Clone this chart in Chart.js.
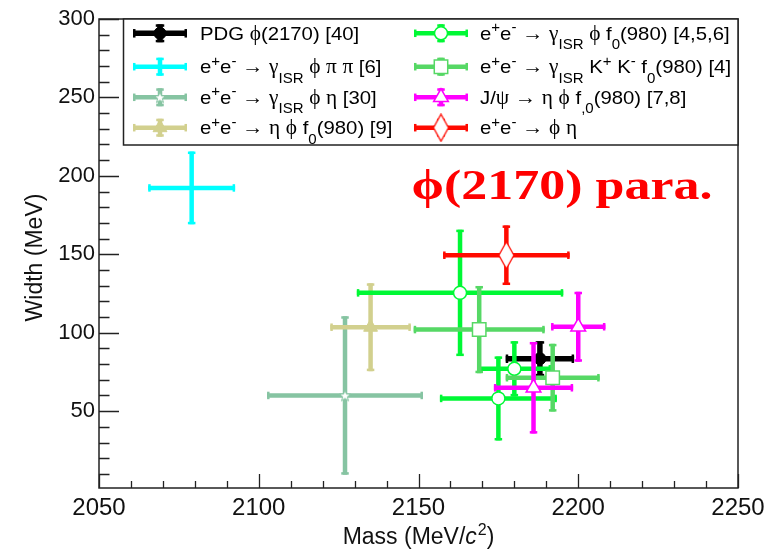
<!DOCTYPE html>
<html><head><meta charset="utf-8">
<script src="https://cdn.jsdelivr.net/npm/chart.js@4.4.1/dist/chart.umd.min.js"></script>
<style>html,body{margin:0;padding:0;background:#fff;}canvas{display:block;}</style>
</head><body>
<canvas id="c" width="784" height="551"></canvas>
<script>
// ---------------- data ----------------
const xTicks = [2050, 2100, 2150, 2200, 2250];
const yTicks = [50, 100, 150, 200, 250, 300];

const pdgMass = [2188.0], pdgMassErr = [10.7], pdgWidth = [83.4], pdgWidthErr = [11.2];
const phiPiPiMass = [2079.0], phiPiPiMassErr = [13.6], phiPiPiWidth = [192.3], phiPiPiWidthErr = [23.2];
const phiEtaIsrMass = [2127.0], phiEtaIsrMassErr = [24.4], phiEtaIsrWidth = [60.0], phiEtaIsrWidthErr = [50.5];
const etaPhiF0Mass = [2135.0], etaPhiF0MassErr = [12.6], etaPhiF0Width = [103.5], etaPhiF0WidthErr = [28.0];
const phiF0IsrMass = [2163.0, 2175.0, 2180.0], phiF0IsrMassErr = [32.3, 18.3, 11.5];
const phiF0IsrWidth = [125.4, 58.1, 77.0], phiF0IsrWidthErr = [40.3, 26.8, 17.6];
const kkF0IsrMass = [2169.0, 2192.0], kkF0IsrMassErr = [20.5, 14.7];
const kkF0IsrWidth = [102.0, 71.3], kkF0IsrWidthErr = [27.8, 21.6];
const jpsiMass = [2200.0, 2186.0], jpsiMassErr = [8.5, 12.4];
const jpsiWidth = [103.8, 64.9], jpsiWidthErr = [22.3, 29.2];
const phiEtaMass = [2177.5], phiEtaMassErr = [19.8], phiEtaWidth = [149.4], phiEtaWidthErr = [19.0];

const seriesLabels = [
  "PDG ϕ(2170) [40]",
  "e^{+}e^{-} → γ_{ISR} ϕ π π [6]",
  "e^{+}e^{-} → γ_{ISR} ϕ η [30]",
  "e^{+}e^{-} → η ϕ f_{0}(980) [9]",
  "e^{+}e^{-} → γ_{ISR} ϕ f_{0}(980) [4,5,6]",
  "e^{+}e^{-} → γ_{ISR} K^{+} K^{-} f_{0}(980) [4]",
  "J/ψ → η ϕ f_{,0}(980) [7,8]",
  "e^{+}e^{-} → ϕ η"
];
const xTitle = "Mass (MeV/";
const yTitle = "Width (MeV)";
const annotation = "ϕ(2170) para.";

// ---------------- custom marker images ----------------
function makeDiamond(color){
  const c = document.createElement('canvas'); c.width = 17; c.height = 29;
  const g = c.getContext('2d');
  g.beginPath(); g.moveTo(8.5,1); g.lineTo(16,14.5); g.lineTo(8.5,28); g.lineTo(1,14.5); g.closePath();
  g.fillStyle = '#fff'; g.fill(); g.strokeStyle = color; g.lineWidth = 1.3; g.stroke();
  return c;
}
function makeStar(color){
  const c = document.createElement('canvas'); c.width = 14; c.height = 14;
  const g = c.getContext('2d');
  g.beginPath();
  for (let k = 0; k < 10; k++){
    const r = k % 2 ? 2.4 : 6, a = -Math.PI/2 + k*Math.PI/5;
    const X = 7 + r*Math.cos(a), Y = 7.5 + r*Math.sin(a);
    k ? g.lineTo(X,Y) : g.moveTo(X,Y);
  }
  g.closePath(); g.fillStyle = '#fff'; g.fill(); g.strokeStyle = color; g.lineWidth = 1; g.stroke();
  return c;
}

const C = {
  black:'#000000', cyan:'#00ffff', teal:'#86c4a2', khaki:'#d2d08e',
  green:'#00f835', mgreen:'#56d865', magenta:'#ff00ff', red:'#ff0a00'
};

function pts(xs, ys){ return xs.map((v,i)=>({x:v, y:ys[i]})); }

const datasets = [
  {data:pts(pdgMass,pdgWidth), xErr:pdgMassErr, yErr:pdgWidthErr, barColor:C.black, barWidth:5.5,
   pointStyle:'circle', pointRadius:6, backgroundColor:C.black, borderColor:C.black, borderWidth:1},
  {data:pts(phiPiPiMass,phiPiPiWidth), xErr:phiPiPiMassErr, yErr:phiPiPiWidthErr, barColor:C.cyan, barWidth:4.5,
   pointStyle:'circle', pointRadius:0, backgroundColor:C.cyan, borderColor:C.cyan, borderWidth:0},
  {data:pts(phiEtaIsrMass,phiEtaIsrWidth), xErr:phiEtaIsrMassErr, yErr:phiEtaIsrWidthErr, barColor:C.teal, barWidth:4.5,
   pointStyle:makeStar(C.teal), pointRadius:7, backgroundColor:'#fff', borderColor:C.teal, borderWidth:1},
  {data:pts(etaPhiF0Mass,etaPhiF0Width), xErr:etaPhiF0MassErr, yErr:etaPhiF0WidthErr, barColor:C.khaki, barWidth:4.5,
   pointStyle:'triangle', pointRadius:8, backgroundColor:C.khaki, borderColor:C.khaki, borderWidth:1},
  {data:pts(phiF0IsrMass,phiF0IsrWidth), xErr:phiF0IsrMassErr, yErr:phiF0IsrWidthErr, barColor:C.green, barWidth:4.5,
   pointStyle:'circle', pointRadius:6.5, backgroundColor:'#fff', borderColor:C.green, borderWidth:1.5},
  {data:pts(kkF0IsrMass,kkF0IsrWidth), xErr:kkF0IsrMassErr, yErr:kkF0IsrWidthErr, barColor:C.mgreen, barWidth:4.5,
   pointStyle:'rect', pointRadius:9.5, backgroundColor:'#fff', borderColor:C.mgreen, borderWidth:1.5},
  {data:pts(jpsiMass,jpsiWidth), xErr:jpsiMassErr, yErr:jpsiWidthErr, barColor:C.magenta, barWidth:4.5,
   pointStyle:'triangle', pointRadius:8.5, backgroundColor:'#fff', borderColor:C.magenta, borderWidth:1.5},
  {data:pts(phiEtaMass,phiEtaWidth), xErr:phiEtaMassErr, yErr:phiEtaWidthErr, barColor:C.red, barWidth:4.5,
   pointStyle:makeDiamond(C.red), pointRadius:14, backgroundColor:'#fff', borderColor:C.red, borderWidth:1.3}
];
datasets.forEach((d,i)=>{ d.label = seriesLabels[i]; d.order = 20 - i; d.pointHoverRadius = d.pointRadius; });

// ---------------- rich text helper ----------------
const SANS = '"Liberation Sans", Arial, sans-serif';
const SERIF = '"Liberation Serif", "Times New Roman", serif';
function parseRich(str){
  const out = []; let i = 0;
  const isMark = k => (str[k]==='^'||str[k]==='_') && str[k+1]==='{';
  while (i < str.length){
    if (isMark(i)){
      const j = str.indexOf('}', i);
      out.push({t:str.slice(i+2,j), mode:str[i]==='^'?'sup':'sub'}); i = j+1;
    } else {
      let j = i; while (j < str.length && !isMark(j)) j++;
      out.push({t:str.slice(i,j), mode:'n'}); i = j;
    }
  }
  return out;
}
function runs(t){
  const out = []; const re = /[ϕφπηγψ→]/;
  for (const ch of t){
    const g = re.test(ch);
    if (out.length && out[out.length-1].g === g) out[out.length-1].t += ch; else out.push({t:ch, g});
  }
  return out;
}
function drawRich(ctx, str, x, y, size, sx){
  ctx.save(); ctx.translate(x, y); ctx.scale(sx, 1);
  let cx = 0;
  for (const p of parseRich(str)){
    const sz = p.mode === 'n' ? size : size*0.74;
    const dy = p.mode === 'sub' ? size*0.5 : p.mode === 'sup' ? -size*0.4 : 0;
    for (const r of runs(p.t)){
      ctx.font = `${r.g ? sz*1.05 : sz}px ${r.g ? SERIF : SANS}`;
      ctx.fillText(r.t, cx, dy);
      cx += ctx.measureText(r.t).width;
    }
  }
  ctx.restore();
}

// ---------------- plugins ----------------
function drawBar(ctx, x0, x1, cy, cx, y0, y1, color, w){
  ctx.strokeStyle = color; ctx.fillStyle = color; ctx.lineWidth = w; ctx.lineCap = 'butt';
  ctx.beginPath(); ctx.moveTo(x0,cy); ctx.lineTo(x1,cy); ctx.moveTo(cx,y0); ctx.lineTo(cx,y1); ctx.stroke();
  const cl = w + 3, cw = 2.5;
  ctx.fillRect(x0, cy - cl/2, cw, cl); ctx.fillRect(x1 - cw, cy - cl/2, cw, cl);
  ctx.fillRect(cx - cl/2, y0, cl, cw); ctx.fillRect(cx - cl/2, y1 - cw, cl, cw);
}

const errorBars = {
  id:'errorBars',
  beforeDatasetDraw(chart, args){
    const ds = chart.data.datasets[args.index];
    const xs = chart.scales.x, ys = chart.scales.y, ctx = chart.ctx;
    ctx.save();
    ds.data.forEach((p,i)=>{
      drawBar(ctx,
        xs.getPixelForValue(p.x - ds.xErr[i]), xs.getPixelForValue(p.x + ds.xErr[i]),
        ys.getPixelForValue(p.y), xs.getPixelForValue(p.x),
        ys.getPixelForValue(p.y + ds.yErr[i]), ys.getPixelForValue(p.y - ds.yErr[i]),
        ds.barColor, ds.barWidth);
    });
    ctx.restore();
  }
};

const frameAndDecor = {
  id:'frameAndDecor',
  afterDraw(chart){
    const ctx = chart.ctx, a = chart.chartArea, xs = chart.scales.x, ys = chart.scales.y;
    ctx.save();
    // ticks (inward)
    ctx.strokeStyle = '#222'; ctx.lineWidth = 1.3;
    ctx.beginPath();
    for (let v = xs.min; v <= xs.max + 1e-6; v += 10){
      const X = Math.round(xs.getPixelForValue(v)) + 0.5;
      const len = (Math.round(v) % 50 === 0) ? 14 : 7;
      ctx.moveTo(X, a.bottom); ctx.lineTo(X, a.bottom - len);
    }
    for (let v = 10; v <= ys.max + 1e-6; v += 10){
      const Y = Math.round(ys.getPixelForValue(v)) + 0.5;
      const len = (v % 50 === 0) ? 20 : 10.5;
      ctx.moveTo(a.left, Y); ctx.lineTo(a.left + len, Y);
    }
    ctx.stroke();
    // frame
    ctx.lineWidth = 1.5; ctx.strokeStyle = '#222';
    ctx.strokeRect(a.left, a.top, a.right - a.left, a.bottom - a.top);

    // legend box
    const lx = 123.5, ly = a.top, lw = a.right - 123.5, lh = 145 - a.top;
    ctx.fillStyle = '#fff'; ctx.fillRect(lx, ly, lw, lh);
    ctx.strokeRect(lx, ly, lw, lh);
    const rowsY = [33.3, 66.7, 97.3, 127.7];
    const cols = [{x0:133, x1:187, tx:200}, {x0:414, x1:468, tx:480}];
    chart.data.datasets.forEach((ds, i)=>{
      const col = cols[i < 4 ? 0 : 1], ry = rowsY[i % 4];
      const mx = (col.x0 + col.x1)/2;
      ctx.save();
      drawBar(ctx, col.x0, col.x1, ry, mx, ry - 9, ry + 9, ds.barColor, ds.barWidth);
      if (ds.pointRadius > 0){
        ctx.fillStyle = ds.backgroundColor; ctx.strokeStyle = ds.borderColor; ctx.lineWidth = ds.borderWidth;
        Chart.helpers.drawPoint(ctx, {pointStyle: ds.pointStyle, radius: ds.pointRadius, rotation: 0, borderWidth: ds.borderWidth}, mx, ry);
      }
      ctx.restore();
      ctx.fillStyle = '#000'; ctx.textBaseline = 'alphabetic'; ctx.textAlign = 'left';
      drawRich(ctx, ds.label, col.tx, ry + 6.5, 19, 1.07);
    });

    // annotation
    ctx.fillStyle = '#ff0000'; ctx.textBaseline = 'alphabetic';
    ctx.font = `bold 42px ${SERIF}`;
    const w = ctx.measureText(annotation).width;
    ctx.save(); ctx.translate(411.5, 198.5); ctx.scale(301/w, 1); ctx.fillText(annotation, 0, 0); ctx.restore();

    // axis titles
    ctx.fillStyle = '#111';
    ctx.font = `23px ${SANS}`;
    const w1 = ctx.measureText(xTitle).width;
    ctx.font = `italic 23px ${SANS}`; const wc = ctx.measureText('c').width;
    ctx.font = `16px ${SANS}`; const w2 = ctx.measureText('2').width;
    ctx.font = `23px ${SANS}`; const w3 = ctx.measureText(')').width;
    let tx = (a.left + a.right)/2 - (w1 + wc + w2 + 1 + w3)/2, ty = 544;
    ctx.font = `23px ${SANS}`; ctx.fillText(xTitle, tx, ty); tx += w1;
    ctx.font = `italic 23px ${SANS}`; ctx.fillText('c', tx, ty); tx += wc + 1;
    ctx.font = `16px ${SANS}`; ctx.fillText('2', tx, ty - 9); tx += w2;
    ctx.font = `23px ${SANS}`; ctx.fillText(')', tx, ty);

    ctx.save();
    ctx.translate(42, (a.top + a.bottom)/2 + 4); ctx.rotate(-Math.PI/2);
    ctx.textAlign = 'center'; ctx.font = `23px ${SANS}`;
    ctx.fillText(yTitle, 0, 0);
    ctx.restore();
    ctx.restore();
  }
};

new Chart(document.getElementById('c'), {
  type:'scatter',
  data:{ datasets },
  options:{
    responsive:false, animation:false, devicePixelRatio:1,
    layout:{ padding:{ top:19, right:46, left:0, bottom:0 } },
    plugins:{ legend:{display:false}, tooltip:{enabled:false} },
    events:[],
    scales:{
      x:{ type:'linear', min:2050, max:2250,
          grid:{display:false, drawTicks:false}, border:{display:false},
          ticks:{ color:'#111', font:{family:SANS, size:24}, padding:6, maxRotation:0, autoSkip:false,
                  callback: v => String(v) },
          afterBuildTicks: s => { s.ticks = xTicks.map(v=>({value:v})); },
          afterFit: s => { s.height = 63; } },
      y:{ type:'linear', min:1, max:300,
          grid:{display:false, drawTicks:false}, border:{display:false},
          ticks:{ color:'#111', font:{family:SANS, size:22}, padding:4, autoSkip:false,
                  callback: v => String(v) },
          afterBuildTicks: s => { s.ticks = yTicks.map(v=>({value:v})); },
          afterFit: s => { s.width = 99; } }
    }
  },
  plugins:[errorBars, frameAndDecor]
});
</script>
</body></html>
